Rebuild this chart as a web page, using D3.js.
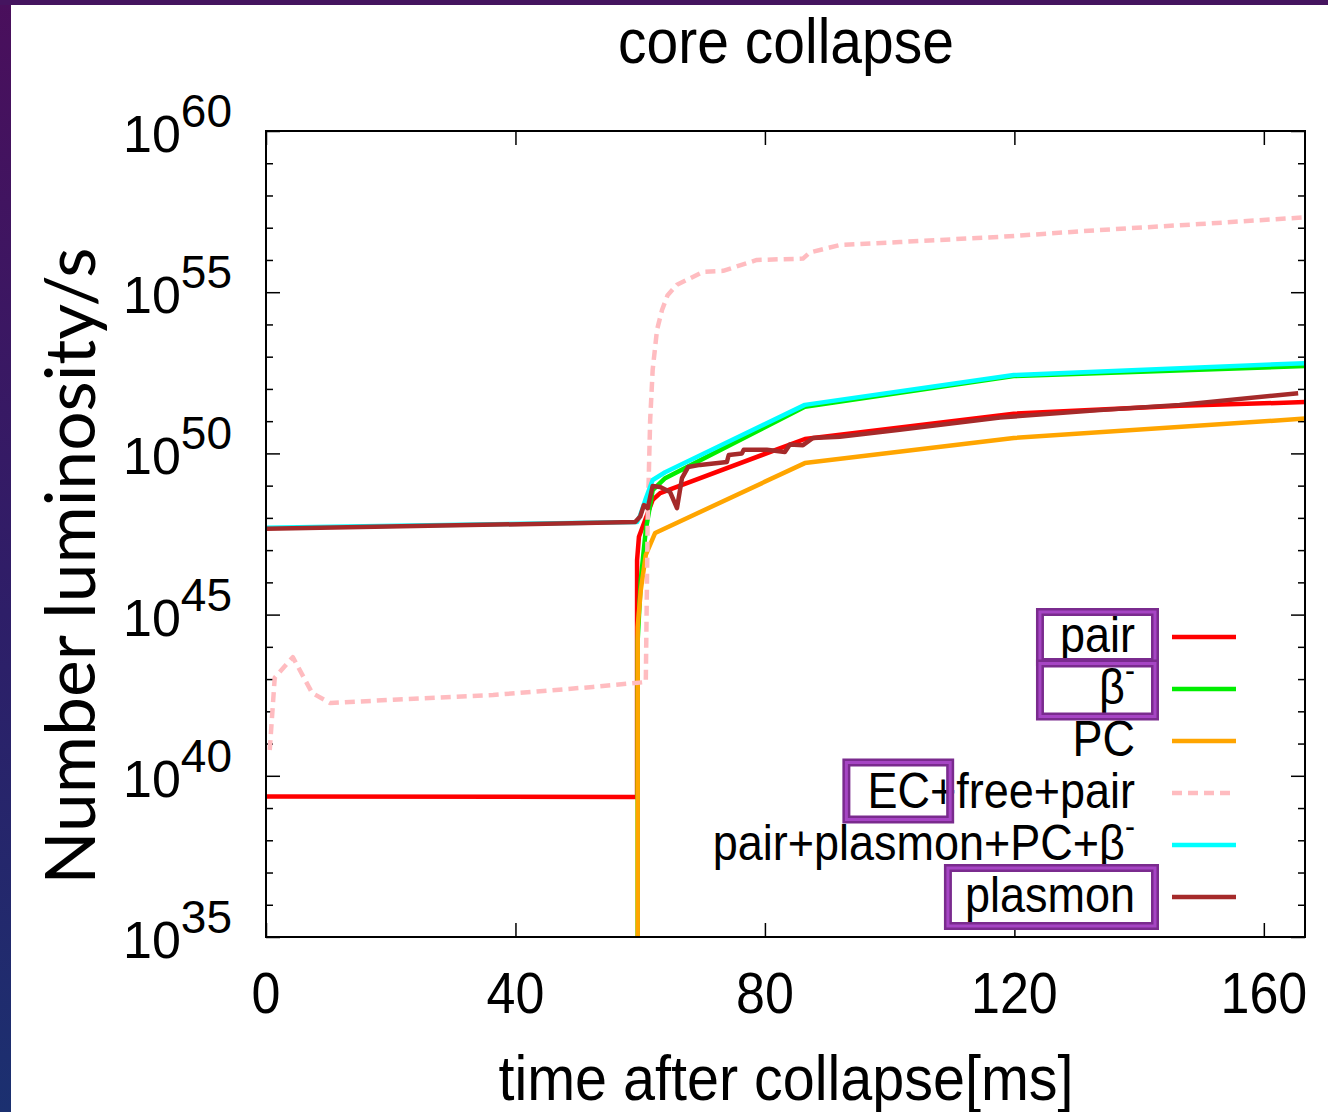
<!DOCTYPE html>
<html>
<head>
<meta charset="utf-8">
<script src="https://cdn.jsdelivr.net/npm/d3@7"></script>
<style>
  html, body { margin: 0; padding: 0; background: #fff; }
  svg { display: block; }
</style>
</head>
<body>
<svg id="chart" width="1328" height="1112"></svg>
<script>
// ---- data: time after collapse [ms] and number luminosity [1/s] ----
const xTickValues = [0, 40, 80, 120, 160];
const yTickExponents = [35, 40, 45, 50, 55, 60];

const pairTime = [0, 59.2, 59.5, 59.5, 59.8, 60.8, 62.0, 63.2, 86.4, 119.9, 146.5, 166.6];
const pairLum  = [2.3e39, 2.2e39, 2.2e39, 4.9e46, 2.6e47, 8.6e47, 3.6e48, 5.9e48, 2.8e50, 1.7e51, 3.0e51, 3.9e51];

const betaTime = [59.6, 59.6, 60.1, 60.9, 62.0, 64.0, 86.4, 119.9, 166.6];
const betaLum  = [1e30, 1.6e44, 1.2e46, 4.2e47, 7.2e48, 1.7e49, 2.8e51, 2.5e52, 5.1e52];

const pcTime = [59.6, 59.6, 60.1, 60.9, 62.4, 86.4, 119.9, 166.6];
const pcLum  = [1e30, 4.1e44, 5.8e45, 7.1e46, 3.4e47, 5.0e49, 3.0e50, 1.2e51];

const ecTime = [0.6, 1.4, 4.3, 7.4, 10.3, 20.4, 36.4, 52.4, 60.9, 61.2, 61.6, 62.0, 62.7, 63.5, 64.4, 65.9,
                70.1, 73.3, 78.7, 86.1, 87.2, 92.0, 101.6, 117.7, 133.7, 149.7, 166.6];
const ecLum  = [6.3e40, 1.1e43, 4.8e43, 3.7e42, 1.8e42, 2.3e42, 3.2e42, 5.7e42, 8.1e42, 8.5e47, 1.1e51, 3.9e52,
                6.8e53, 2.8e54, 8.1e54, 1.7e55, 4.3e55, 4.6e55, 1.0e56, 1.1e56, 1.7e56, 2.9e56, 3.6e56, 5.2e56,
                8.5e56, 1.3e57, 2.1e57];

const totalTime = [0, 59.5, 60.0, 60.8, 62.0, 64.0, 86.4, 119.9, 166.6];
const totalLum  = [4.9e47, 7.4e47, 1.2e48, 3.5e48, 1.5e49, 2.6e49, 3.2e51, 2.7e52, 6.3e52];

const plasmonTime = [0, 59.2, 60.0, 60.6, 61.2, 62.0, 63.2, 64.8, 65.9, 66.7, 67.7, 69.6, 73.9, 74.2, 76.3, 76.6,
                     80.3, 83.2, 84.0, 86.1, 87.7, 92.0, 101.6, 117.7, 133.7, 146.5, 165.5];
const plasmonLum  = [4.6e47, 7.4e47, 1.1e48, 2.5e48, 2.0e48, 9.8e48, 9.1e48, 6.3e48, 2.0e48, 1.7e49, 3.8e49, 4.4e49,
                     5.4e49, 8.9e49, 1.0e50, 1.3e50, 1.3e50, 1.1e50, 1.9e50, 1.8e50, 3.0e50, 3.3e50, 5.4e50,
                     1.3e51, 2.2e51, 3.2e51, 7.4e51];

const seriesNames  = ["pair", "β-", "PC", "EC+free+pair", "pair+plasmon+PC+β-", "plasmon"];
const seriesColors = ["#ff0000", "#00ee00", "#ffa500", "#ffbcc0", "#00ffff", "#a52a2a"];
const seriesDash   = [null, null, null, "10,6", null, null];
const seriesTimes  = [pairTime, betaTime, pcTime, ecTime, totalTime, plasmonTime];
const seriesLums   = [pairLum, betaLum, pcLum, ecLum, totalLum, plasmonLum];

// ---- layout ----
const W = 1328, H = 1112;
const plot = { left: 266, right: 1305, top: 131, bottom: 937 };
const gnuFont = "'Liberation Sans', Arial, sans-serif";
const stretchY = 1.1;

const svg = d3.select("#chart");

// slide backdrop: dark band on the left and top
const defs = svg.append("defs");
const grad = defs.append("linearGradient").attr("id", "edge").attr("x1", 0).attr("y1", 0).attr("x2", 0).attr("y2", 1);
grad.append("stop").attr("offset", "0%").attr("stop-color", "#4a0f5c");
grad.append("stop").attr("offset", "55%").attr("stop-color", "#2e1e68");
grad.append("stop").attr("offset", "100%").attr("stop-color", "#1b3070");
svg.append("rect").attr("x", 0).attr("y", 0).attr("width", W).attr("height", H).attr("fill", "#fff");
svg.append("rect").attr("x", 0).attr("y", 0).attr("width", 11).attr("height", H).attr("fill", "url(#edge)");
svg.append("rect").attr("x", 0).attr("y", 0).attr("width", W).attr("height", 5).attr("fill", "#45145f");

defs.append("clipPath").attr("id", "plotclip").append("rect")
  .attr("x", plot.left).attr("y", plot.top)
  .attr("width", plot.right - plot.left).attr("height", plot.bottom - plot.top);

const x = d3.scaleLinear().domain([0, 166.6]).range([plot.left, plot.right]);
const y = d3.scaleLog().domain([1e35, 1e60]).range([plot.bottom, plot.top]);

// helper for vertically stretched text
function stretchedText(g, tx, ty, str, size, anchor) {
  return g.append("text")
    .attr("transform", `translate(${tx},${ty}) scale(1,${stretchY})`)
    .attr("font-family", gnuFont).attr("font-size", size)
    .attr("text-anchor", anchor || "middle").attr("fill", "#000")
    .text(str);
}

// ---- axes (inward ticks, mirrored on all four sides) ----
const majorY = yTickExponents.map(e => Math.pow(10, e));
const minorY = d3.range(35, 61).filter(e => e % 5 !== 0).map(e => Math.pow(10, e));

const axes = svg.append("g").attr("class", "axes");
function drawAxis(axis, tx, ty) {
  const g = axes.append("g").attr("transform", `translate(${tx},${ty})`).call(axis);
  g.select(".domain").remove();
  g.selectAll("line").attr("stroke", "#000").attr("stroke-width", 1.5);
  g.selectAll("text").remove();
}
drawAxis(d3.axisBottom(x).tickValues(xTickValues).tickSize(-14), 0, plot.bottom);
drawAxis(d3.axisTop(x).tickValues(xTickValues).tickSize(-14), 0, plot.top);
drawAxis(d3.axisLeft(y).tickValues(majorY).tickSize(-14), plot.left, 0);
drawAxis(d3.axisLeft(y).tickValues(minorY).tickSize(-7), plot.left, 0);
drawAxis(d3.axisRight(y).tickValues(majorY).tickSize(-14), plot.right, 0);
drawAxis(d3.axisRight(y).tickValues(minorY).tickSize(-7), plot.right, 0);

// tick labels
xTickValues.forEach(v => stretchedText(axes, x(v), 1013, String(v), 52, "middle"));
yTickExponents.forEach(e => {
  const t = axes.append("text")
    .attr("x", 232).attr("y", y(Math.pow(10, e)) + 21)
    .attr("font-family", gnuFont).attr("font-size", 52)
    .attr("text-anchor", "end").attr("fill", "#000");
  t.append("tspan").text("10");
  t.append("tspan").attr("font-size", 46).attr("dy", -25).text(String(e));
});

// ---- series ----
const line = d3.line().x(d => x(d[0])).y(d => y(d[1]));
const lines = svg.append("g").attr("clip-path", "url(#plotclip)");
seriesNames.forEach((name, i) => {
  const pts = seriesTimes[i].map((t, k) => [t, seriesLums[i][k]]);
  lines.append("path")
    .datum(pts)
    .attr("d", line)
    .attr("fill", "none")
    .attr("stroke", seriesColors[i])
    .attr("stroke-width", 4.5)
    .attr("stroke-linejoin", "round")
    .attr("stroke-dasharray", seriesDash[i]);
});

// plot frame
svg.append("rect")
  .attr("x", plot.left).attr("y", plot.top)
  .attr("width", plot.right - plot.left).attr("height", plot.bottom - plot.top)
  .attr("fill", "none").attr("stroke", "#000").attr("stroke-width", 2);

// ---- legend ----
const legend = svg.append("g").attr("class", "legend");
const legendTop = 637, legendStep = 52, legendTextRight = 1135;
const legendTexts = [];
seriesNames.forEach((name, i) => {
  const cy = legendTop + i * legendStep;
  const t = legend.append("text")
    .attr("transform", `translate(${legendTextRight},${cy + 15}) scale(1,${stretchY})`)
    .attr("font-family", gnuFont).attr("font-size", 45)
    .attr("text-anchor", "end").attr("fill", "#000");
  if (name.endsWith("β-")) {
    t.append("tspan").text(name.slice(0, -1));
    t.append("tspan").attr("font-size", 30).attr("dy", -20).text("-");
  } else {
    t.text(name);
  }
  legendTexts.push(t);
  legend.append("line")
    .attr("x1", 1172).attr("x2", 1236).attr("y1", cy).attr("y2", cy)
    .attr("stroke", seriesColors[i]).attr("stroke-width", 4.5)
    .attr("stroke-dasharray", seriesDash[i]);
});

// ---- y axis title ----
const yTitle = svg.append("text")
  .attr("font-family", "Lato, 'Open Sans', sans-serif").attr("font-size", 74)
  .attr("text-anchor", "middle").attr("fill", "#000")
  .attr("transform", "translate(95,566) rotate(-90)")
  .text("Number luminosity/s");
const yLen = yTitle.node().getComputedTextLength();
yTitle.attr("font-size", 74 * 637 / yLen);

// chart title and x axis title
stretchedText(svg, 786, 63, "core collapse", 57, "middle");
stretchedText(svg, 786, 1100, "time after collapse[ms]", 57.5, "middle");

// ---- highlight frames around some legend labels ----
const frames = svg.append("g").attr("class", "frames");
function frame(x0, x1, cy, h) {
  frames.append("rect").attr("x", x0).attr("y", cy - h / 2).attr("width", x1 - x0).attr("height", h)
    .attr("fill", "none").attr("stroke", "#7a2b8e").attr("stroke-width", 8);
  frames.append("rect").attr("x", x0).attr("y", cy - h / 2).attr("width", x1 - x0).attr("height", h)
    .attr("fill", "none").attr("stroke", "#a645c4").attr("stroke-width", 3);
}
const textLeft = i => legendTextRight - legendTexts[i].node().getComputedTextLength();
const frameRight = legendTextRight + 20;
const pairLeft = textLeft(0) - 20;
frame(pairLeft, frameRight, legendTop, 50);
frame(pairLeft, frameRight, legendTop + legendStep + 1, 53);
const ecStart = textLeft(3);
const ecWidth = legendTexts[3].node().getSubStringLength(0, 3);
frame(ecStart - 21, ecStart + ecWidth - 6, legendTop + 3 * legendStep - 2, 57);
frame(textLeft(5) - 17, frameRight, legendTop + 5 * legendStep, 58);
</script>
</body>
</html>
